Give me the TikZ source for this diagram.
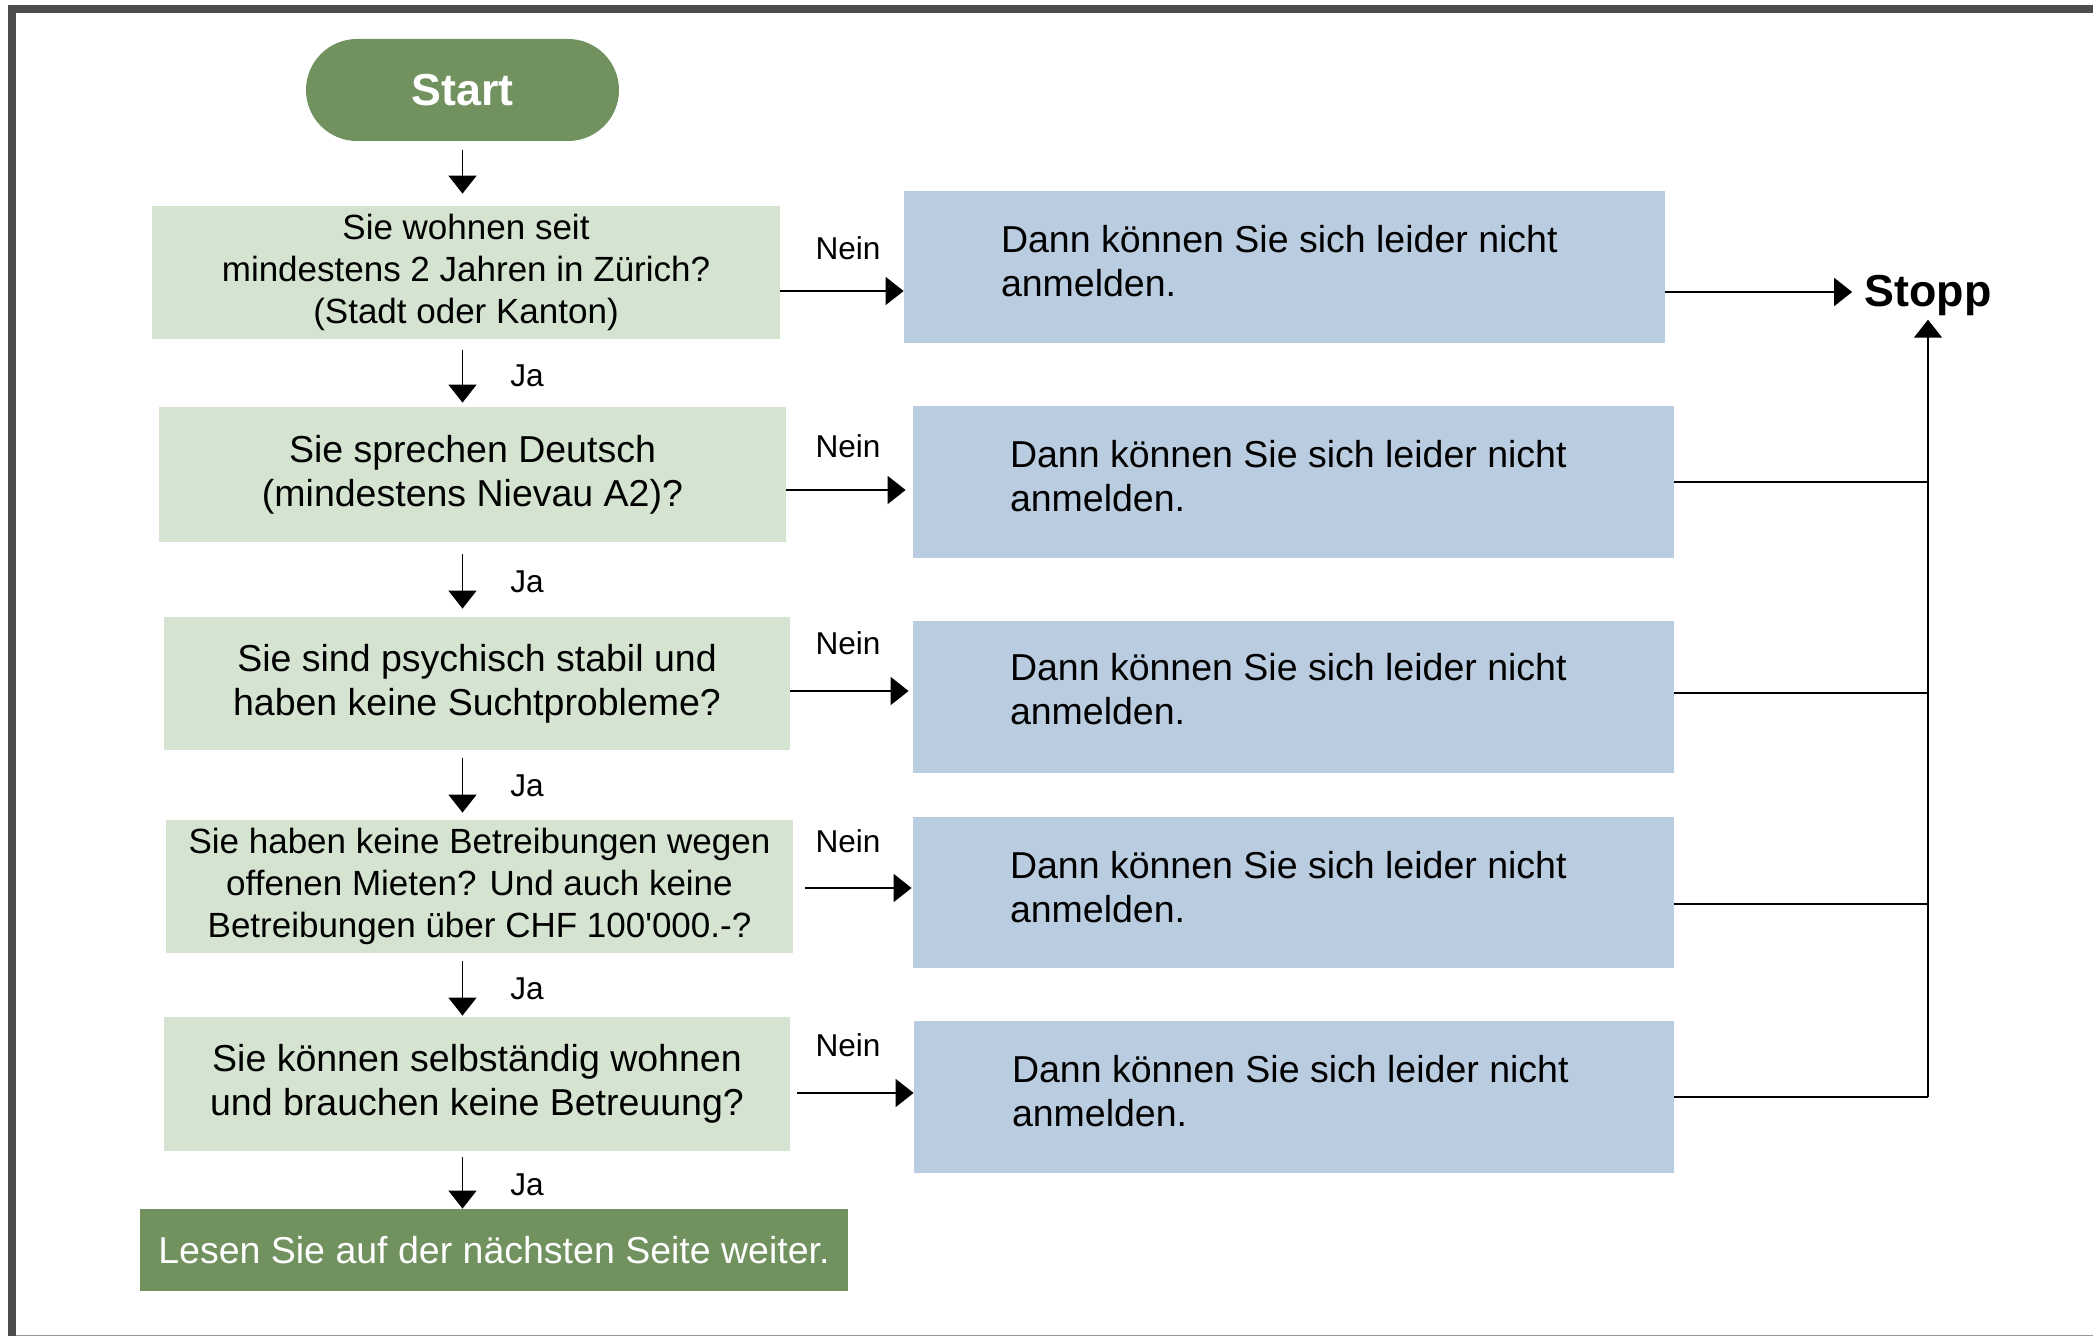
\documentclass[tikz,border=0pt]{standalone}
\usepackage{fontspec}
\setmainfont{Liberation Sans}
\usetikzlibrary{arrows.meta}
\definecolor{startgreen}{HTML}{71915F}
\definecolor{qgreen}{HTML}{D5E3D1}
\definecolor{nblue}{HTML}{BACCDF}
\definecolor{framegray}{HTML}{4D4D4D}
\newcommand{\fsmain}{\fontsize{18.75pt}{22pt}\selectfont}
\newcommand{\fssmall}{\fontsize{17.5pt}{21pt}\selectfont}
\newcommand{\fslab}{\fontsize{15.8pt}{18pt}\selectfont}
\newcommand{\fsbig}{\fontsize{22.4pt}{26pt}\selectfont}
\begin{document}
\begin{tikzpicture}[x=0.5pt,y=-0.5pt,
  qbox/.style={fill=qgreen, inner sep=0pt, align=center, font=\fsmain},
  bbox/.style={fill=nblue, inner sep=0pt, minimum width=380.5pt, minimum height=76pt},
  btext/.style={anchor=west, align=left, inner sep=0pt, font=\fsmain},
  lab/.style={inner sep=0pt, font=\fslab},
  arr/.style={-{Triangle[width=14pt,length=9pt]}, line width=0.8pt},
  conn/.style={line width=0.8pt}]
\useasboundingbox (0,0) rectangle (2093,1336);
% frame
\fill[framegray] (8,5) rectangle (2093,13);
\fill[framegray] (8,5) rectangle (16,1336);
\draw[gray!80, line width=0.5pt] (16,1335) -- (2093,1335);
% nodes
\node[fill=startgreen, text=white, minimum width=156.5pt, minimum height=51pt,
      rounded corners=25.5pt, inner sep=0pt, font=\fsbig\bfseries] (start) at (462.5,90) {Start};
\node[qbox, font=\fssmall, minimum width=314pt, minimum height=66.5pt] (q1) at (466,272.5)
  {Sie wohnen seit\\mindestens 2 Jahren in Zürich?\\(Stadt oder Kanton)};
\node[qbox, minimum width=313.5pt, minimum height=67.5pt] (q2) at (472.5,474.5)
  {Sie sprechen Deutsch\\(mindestens Nievau A2)?};
\node[qbox, minimum width=313pt, minimum height=66.5pt] (q3) at (477,683.5)
  {Sie sind psychisch stabil und\\haben keine Suchtprobleme?};
\node[qbox, font=\fssmall, minimum width=313.5pt, minimum height=66.5pt] (q4) at (479.5,886.5)
  {Sie haben keine Betreibungen wegen\\offenen Mieten? Und auch keine\\Betreibungen über CHF 100\textquotesingle000.-?};
\node[qbox, minimum width=313pt, minimum height=67pt] (q5) at (477,1084)
  {Sie können selbständig wohnen\\und brauchen keine Betreuung?};
\node[fill=startgreen, text=white, inner sep=0pt, font=\fsmain,
      minimum width=354pt, minimum height=41pt] (lesen) at (494,1250)
  {Lesen Sie auf der nächsten Seite weiter.};

\node[bbox] (b1) at (1284.5,267) {};
\node[bbox] (b2) at (1293.5,482) {};
\node[bbox] (b3) at (1293.5,697) {};
\node[bbox, minimum height=75.5pt] (b4) at (1293.5,892.5) {};
\node[bbox, minimum width=380pt] (b5) at (1294,1097) {};
\node[btext] (t1) at ([xshift=48.5pt,yshift=3pt]b1.west) {Dann können Sie sich leider nicht\\anmelden.};
\node[btext] (t2) at ([xshift=48.5pt,yshift=3pt]b2.west) {Dann können Sie sich leider nicht\\anmelden.};
\node[btext] (t3) at ([xshift=48.5pt,yshift=4pt]b3.west) {Dann können Sie sich leider nicht\\anmelden.};
\node[btext] (t4) at ([xshift=48.5pt,yshift=2.75pt]b4.west) {Dann können Sie sich leider nicht\\anmelden.};
\node[btext] (t5) at ([xshift=49pt,yshift=3pt]b5.west) {Dann können Sie sich leider nicht\\anmelden.};

\node[inner sep=0pt, font=\fsbig\bfseries] (stop) at (1928,296) {Stopp};

% labels
\node[lab] (ja1) at (527,376) {Ja};
\node[lab] (ja2) at (527,582) {Ja};
\node[lab] (ja3) at (527,786) {Ja};
\node[lab] (ja4) at (527,989) {Ja};
\node[lab] (ja5) at (527,1185) {Ja};
\node[lab] (nein1) at (848,248) {Nein};
\node[lab] (nein2) at (848,446) {Nein};
\node[lab] (nein3) at (848,643) {Nein};
\node[lab] (nein4) at (848,841) {Nein};
\node[lab] (nein5) at (848,1045) {Nein};

% vertical arrows
\draw[arr, shorten <=4.5pt, shorten >=6pt] (start.south) -- (start.south |- q1.north);
\draw[arr, shorten <=5.5pt, shorten >=2pt] (q1.south -| start.south) -- (q2.north -| start.south);
\draw[arr, shorten <=6pt, shorten >=4pt] (q2.south -| start.south) -- (q3.north -| start.south);
\draw[arr, shorten <=4pt, shorten >=3.5pt] (q3.south -| start.south) -- (q4.north -| start.south);
\draw[arr, shorten <=4pt, shorten >=0.5pt] (q4.south -| start.south) -- (q5.north -| start.south);
\draw[arr, shorten <=3pt] (q5.south -| start.south) -- (lesen.north -| start.south);

% Nein arrows
\draw[arr] ([yshift=-9.25pt]q1.east) -- ([yshift=-9.25pt]q1.east -| b1.west);
\draw[arr, shorten >=3.5pt] ([yshift=-7.75pt]q2.east) -- ([yshift=-7.75pt]q2.east -| b2.west);
\draw[arr, shorten >=2pt] ([yshift=-3.75pt]q3.east) -- ([yshift=-3.75pt]q3.east -| b3.west);
\draw[arr, shorten <=6pt, shorten >=0.5pt] ([yshift=-0.75pt]q4.east) -- ([yshift=-0.75pt]q4.east -| b4.west);
\draw[arr, shorten <=3.5pt] ([yshift=-4.5pt]q5.east) -- ([yshift=-4.5pt]q5.east -| b5.west);

% to Stopp
\draw[arr, shorten >=6pt] ([yshift=-12.5pt]b1.east) -- ([yshift=-12.5pt]b1.east -| stop.west);
\draw[conn] (b2.east) -- (b2.east -| stop.south);
\draw[conn] ([yshift=2pt]b3.east) -- ([yshift=2pt]b3.east -| stop.south);
\draw[conn] ([yshift=-5.75pt]b4.east) -- ([yshift=-5.75pt]b4.east -| stop.south);
\draw[conn] (b5.east) -- (b5.east -| stop.south);
\draw[arr, shorten >=1.5pt] (b5.east -| stop.south) -- (stop.south);
\end{tikzpicture}
\end{document}
